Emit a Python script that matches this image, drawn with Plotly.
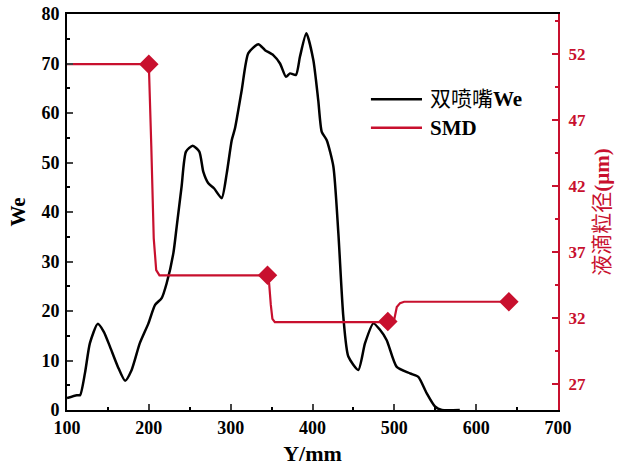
import plotly.graph_objects as go

# ---- data ----
we_x = [100, 112, 116, 122, 128, 137.5, 145, 152.5, 162, 171, 179, 189, 199.5, 207.5, 215.7, 221.8, 230,
        234, 240, 245.4, 253.6, 261.7, 266.6, 272.7, 279.6, 289, 295.2, 301.3, 305.3, 313.5, 321.6,
        333.8, 342, 352, 360.3, 367.6, 372.5, 379.8, 384.7, 392.5, 401, 407, 411.3, 417.4, 425.5,
        431.6, 437.7, 443.8, 456, 464.2, 474.4, 482, 490.7, 502.9, 519.2, 529.3, 539.5, 549.7, 558, 580]
we_y = [2.4, 3.0, 3.0, 7.5, 13.5, 17.4, 15.8, 12.8, 8.8, 5.9, 8.1, 13.5, 17.5, 21.2, 22.6, 25.6, 31.7,
        37.0, 45.1, 52.2, 53.4, 52.2, 48.1, 45.8, 44.8, 42.8, 47.8, 54.5, 56.9, 64.6, 72.1,
        73.9, 72.7, 71.7, 70.0, 67.3, 68.0, 67.7, 71.4, 76.1, 70.7, 62.6, 56.2, 54.5, 49.2,
        35.7, 18.8, 10.8, 8.1, 13.5, 17.5, 16.3, 14.1, 8.7, 7.4, 6.7, 3.4, 0.7, 0, 0]

smd_line_x = [100, 200, 203, 206, 209, 213, 345, 347, 349, 351, 354, 492, 497, 500, 503, 507, 512, 640]
smd_line_y = [51.2, 51.2, 45, 38, 35.6, 35.2, 35.2, 34.6, 33.0, 31.9, 31.65, 31.65, 31.65, 31.9, 32.8, 33.1, 33.2, 33.2]

smd_pts_x = [200, 345, 492, 640]
smd_pts_y = [51.2, 35.2, 31.7, 33.2]

legend_names = ["双喷嘴<b>We</b>", "<b>SMD</b>"]

RED = "#C8102E"
FONT = "Liberation Serif, Times New Roman, Noto Sans CJK SC, serif"

fig = go.Figure()
fig.add_trace(go.Scatter(x=we_x, y=we_y, mode="lines", name=legend_names[0], showlegend=False,
                         line=dict(color="black", width=2.5, shape="spline", smoothing=0.6)))
fig.add_trace(go.Scatter(x=smd_line_x, y=smd_line_y, mode="lines", name=legend_names[1], yaxis="y2",
                         showlegend=False, line=dict(color=RED, width=2.2)))
fig.add_trace(go.Scatter(x=smd_pts_x, y=smd_pts_y, mode="markers", yaxis="y2", showlegend=False,
                         marker=dict(symbol="diamond", size=15, color=RED)))

axis_common = dict(showgrid=False, zeroline=False, ticks="inside", tickwidth=2,
                   ticklen=6, linewidth=2, automargin=False)

# manual legend (longer line samples, as in the reference)
leg_colors = ["black", RED]
leg_y = [0.785, 0.713]
shapes = []
annotations = []
for name, col, yy in zip(legend_names, leg_colors, leg_y):
    shapes.append(dict(type="line", xref="paper", yref="paper", x0=0.619, x1=0.723, y0=yy, y1=yy,
                       line=dict(color=col, width=2.5)))
    annotations.append(dict(xref="paper", yref="paper", x=0.735, y=yy, xanchor="left", yanchor="middle",
                            text=name, showarrow=False, font=dict(size=21, color="black", family=FONT)))

fig.update_layout(
    width=622, height=468,
    margin=dict(l=67, r=64, t=14, b=58),
    paper_bgcolor="white", plot_bgcolor="white",
    font=dict(family=FONT, size=18, color="black"),
    shapes=shapes, annotations=annotations,
    xaxis=dict(range=[100, 700], dtick=100, tick0=100, showline=True, linecolor="black", mirror=True,
               title=dict(text="<b>Y/mm</b>", font=dict(size=22), standoff=9),
               tickfont=dict(size=18), tickprefix="<b>", ticksuffix="</b>",
               minor=dict(dtick=50, ticks="inside", ticklen=3, tickwidth=2, tickcolor="black"),
               **axis_common),
    yaxis=dict(range=[0, 80], dtick=10, showline=True, linecolor="black",
               title=dict(text="<b>We</b>", font=dict(size=21), standoff=10),
               tickfont=dict(size=18), tickprefix="<b>", ticksuffix="</b>", ticklabelstandoff=2,
               minor=dict(dtick=5, ticks="inside", ticklen=3, tickwidth=2, tickcolor="black"),
               **axis_common),
    yaxis2=dict(range=[25, 55], tick0=27, dtick=5, overlaying="y", side="right", showline=True,
                linecolor=RED, tickcolor=RED, tickfont=dict(color=RED, size=17), ticklabelstandoff=5,
                title=dict(text="液滴粒径<b>(μm)</b>", font=dict(size=21, color=RED), standoff=9),
                tickprefix="<b>", ticksuffix="</b>",
                minor=dict(dtick=2.5, tick0=27, ticks="inside", ticklen=3, tickwidth=2, tickcolor=RED),
                **axis_common),
)

fig.write_html("out.html")
